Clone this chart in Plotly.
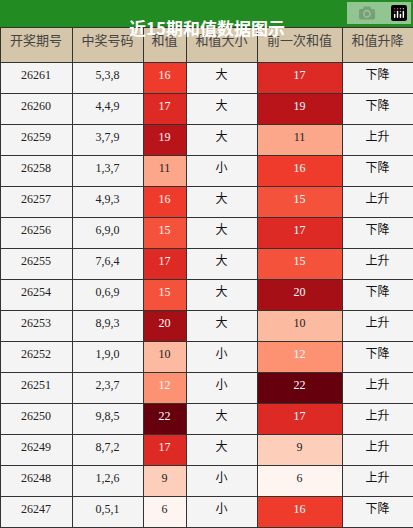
import plotly.graph_objects as go
from plotly.colors import sample_colorscale

periods = ["26261","26260","26259","26258","26257","26256","26255","26254","26253","26252","26251","26250","26249","26248","26247"]
numbers = ["5,3,8","4,4,9","3,7,9","1,3,7","4,9,3","6,9,0","7,6,4","0,6,9","8,9,3","1,9,0","2,3,7","9,8,5","8,7,2","1,2,6","0,5,1"]
sums = [16,17,19,11,16,15,17,15,20,10,12,22,17,9,6]
sizes = ["大","大","大","小","大","大","大","大","大","小","小","大","大","小","小"]
prev_sums = [17,19,11,16,15,17,15,20,10,12,22,17,9,6,16]
trend = ["下降","下降","上升","下降","上升","下降","上升","下降","上升","下降","上升","上升","上升","上升","下降"]
headers = ["开奖期号","中奖号码","和值","和值大小","前一次和值","和值升降"]

stops = ['#fff5f0','#fee0d2','#fcbba1','#fc9272','#fb6a4a','#ef3b2c','#cb181d','#a50f15','#67000d']
scale = [[i/8, c] for i, c in enumerate(stops)]
vmin, vmax = 6, 22
def col(v):
    return sample_colorscale(scale, [(v-vmin)/(vmax-vmin)])[0]
def tcol(v):
    return "white" if (v-vmin)/(vmax-vmin) > 0.33 else "#222"

bg = "#f4f4f4"
n = len(periods)
fills = [[bg]*n, [bg]*n, [col(v) for v in sums], [bg]*n, [col(v) for v in prev_sums], [bg]*n]
fcols = [["#222"]*n, ["#222"]*n, [tcol(v) for v in sums], ["#111"]*n, [tcol(v) for v in prev_sums], ["#111"]*n]

fig = go.Figure(go.Table(
    columnwidth=[72,71,43,71,85,71],
    header=dict(values=headers, fill_color="#d5c5a9", line=dict(color="#333", width=1),
                font=dict(family="Noto Sans CJK SC", size=13, color="#444"), height=35, align="center"),
    cells=dict(values=[periods, numbers, [str(v) for v in sums], sizes, [str(v) for v in prev_sums], trend],
               fill_color=fills, line=dict(color="#333", width=1),
               font=dict(family="Liberation Serif, Noto Sans CJK SC", size=12, color=fcols),
               height=31, align="center"),
    domain=dict(x=[0,1], y=[0, 1-27/528])
))
fig.add_shape(type="rect", xref="paper", yref="paper", x0=0, x1=1, y0=1-27/528, y1=1,
              fillcolor="#228b22", line=dict(width=0), layer="below")
fig.add_annotation(text="<b>近15期和值数据图示</b>", xref="paper", yref="paper", x=0.5, y=1-13.5/528,
                   showarrow=False, font=dict(family="Noto Sans CJK SC, Liberation Serif", size=17, color="white"))
fig.update_layout(width=413, height=528, margin=dict(l=0, r=0, t=0, b=0), paper_bgcolor="white")
fig.write_html("out.html")
with open("out.html", encoding="utf-8") as f:
    html = f.read()
html = html.replace("<head>", "<head><style>body{margin:0;padding:0;overflow:hidden}</style>", 1)
with open("out.html", "w", encoding="utf-8") as f:
    f.write(html)
